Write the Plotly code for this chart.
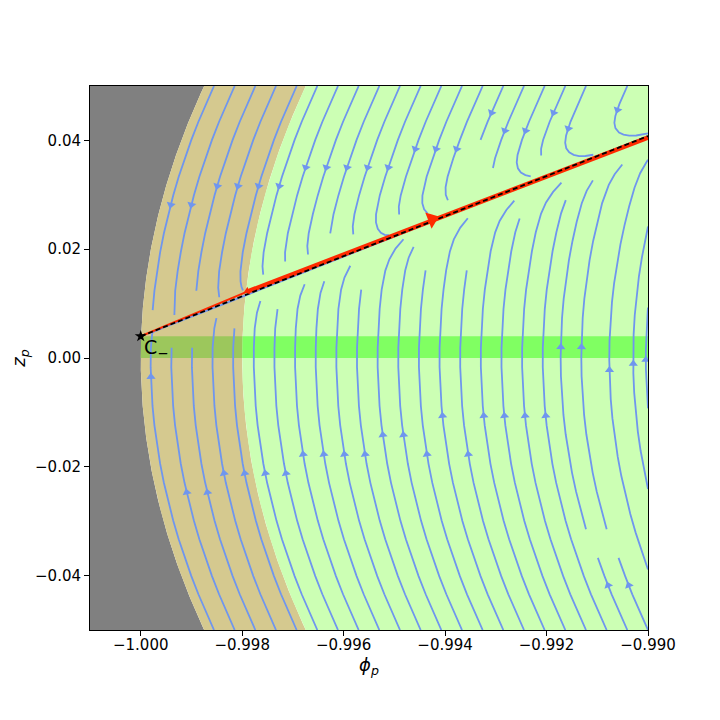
import numpy as np
import plotly.graph_objects as go

# =========================================================
# DATA
# =========================================================
x_range = [-1.001, -0.990]
y_range = [-0.05, 0.05]
x_ticks = [-1.000, -0.998, -0.996, -0.994, -0.992, -0.990]
x_ticktext = ['−1.000', '−0.998', '−0.996', '−0.994', '−0.992', '−0.990']
y_ticks = [-0.04, -0.02, 0.00, 0.02, 0.04]
y_ticktext = ['−0.04', '−0.02', '0.00', '0.02', '0.04']

# region boundaries: outer (unit) circle and inner circle, green band in z
circle_radii = [1.000, 0.998]
band_z = [0.000, 0.004]

# critical point C- and trajectory
c_minus = [-1.000, 0.004]
dashed_phi = [-1.000, -0.990]
dashed_z = [0.004, 0.0408]
red_thin_phi = [-1.000, -0.99790]
red_thin_z = [0.004, 0.0122]
red_thick_phi = [-0.99790, -0.990]
red_thick_z = [0.0122, 0.0405]
red_arrow_phi = [-0.99426]
red_arrow_z = [0.0255]
red_tail_phi = [-0.99790]
red_tail_z = [0.0123]

# flow model for the streamlines (widths in axes fraction)
flow_width = 0.015
along_strength = 2.0
along_width = 0.04
stream_density = 0.95

GRAY = '#808080'
TAN = '#d5c98f'
LIGHT = '#ccffb4'
BAND_TAN = '#9cc75c'
BAND_LIGHT = '#80ff62'
STREAM = '#6f96ee'

xs = x_range[1] - x_range[0]
ys = y_range[1] - y_range[0]


# =========================================================
# STREAMPLOT (same scheme as matplotlib)
# =========================================================
class OutOfBounds(Exception):
    pass


class Terminate(Exception):
    pass


class Invalid(Exception):
    pass


def interp(a, xi, yi):
    Ny, Nx = a.shape
    x = int(xi)
    y = int(yi)
    xn = min(x + 1, Nx - 1)
    yn = min(y + 1, Ny - 1)
    xt = xi - x
    yt = yi - y
    a0 = a[y, x] * (1 - xt) + a[y, xn] * xt
    a1 = a[yn, x] * (1 - xt) + a[yn, xn] * xt
    return a0 * (1 - yt) + a1 * yt


def streamplot(gx, gy, U, V, density=1.0, minlength=0.1, maxlength=4.0):
    ny, nx = U.shape
    mny = mnx = int(30 * density)
    mask = np.zeros((mny, mnx), bool)
    state = {'traj': [], 'cur': None}

    ug = U * (nx - 1) / xs
    vg = V * (ny - 1) / ys
    speed = np.hypot(U / xs, V / ys)

    def within(xi, yi):
        return 0 <= xi <= nx - 1 and 0 <= yi <= ny - 1

    def g2m(xi, yi):
        return (int(round(xi * (mnx - 1) / (nx - 1))),
                int(round(yi * (mny - 1) / (ny - 1))))

    def m_update(xm, ym):
        if state['cur'] != (xm, ym):
            if not mask[ym, xm]:
                state['traj'].append((ym, xm))
                mask[ym, xm] = True
                state['cur'] = (xm, ym)
            else:
                raise Invalid

    def update(xi, yi):
        if not within(xi, yi):
            raise Invalid
        m_update(*g2m(xi, yi))

    def make_f(sign):
        def f(xi, yi):
            if not within(xi, yi):
                raise OutOfBounds
            sp = interp(speed, xi, yi)
            if np.isnan(sp) or sp == 0:
                raise Terminate
            ui = interp(ug, xi, yi)
            vi = interp(vg, xi, yi)
            if np.isnan(ui) or np.isnan(vi):
                raise Terminate
            return sign * ui / sp, sign * vi / sp
        return f

    def euler(traj, f):
        xi, yi = traj[-1]
        cx, cy = f(xi, yi)
        if cx == 0:
            dsx = np.inf
        elif cx < 0:
            dsx = xi / -cx
        else:
            dsx = (nx - 1 - xi) / cx
        if cy == 0:
            dsy = np.inf
        elif cy < 0:
            dsy = yi / -cy
        else:
            dsy = (ny - 1 - yi) / cy
        ds = min(dsx, dsy)
        traj.append((xi + cx * ds, yi + cy * ds))
        return ds

    def rk12(x0, y0, f):
        maxerror = 0.003
        maxds = min(1.0 / mnx, 1.0 / mny, 0.1)
        ds = maxds
        stotal = 0.0
        xi, yi = x0, y0
        traj = []
        while True:
            try:
                if within(xi, yi):
                    traj.append((xi, yi))
                else:
                    raise OutOfBounds
                k1x, k1y = f(xi, yi)
                k2x, k2y = f(xi + ds * k1x, yi + ds * k1y)
            except OutOfBounds:
                if traj:
                    try:
                        stotal += euler(traj, f)
                    except (Terminate, OutOfBounds):
                        pass
                break
            except Terminate:
                break
            dx1 = ds * k1x
            dy1 = ds * k1y
            dx2 = ds * 0.5 * (k1x + k2x)
            dy2 = ds * 0.5 * (k1y + k2y)
            err = np.hypot((dx2 - dx1) / (nx - 1), (dy2 - dy1) / (ny - 1))
            if err < maxerror:
                xi += dx2
                yi += dy2
                try:
                    update(xi, yi)
                except Invalid:
                    break
                if stotal + ds > maxlength:
                    break
                stotal += ds
            if err == 0:
                ds = maxds
            else:
                ds = min(maxds, 0.85 * ds * (maxerror / err) ** 0.5)
        return stotal, traj

    def integrate(x0, y0):
        state['traj'] = []
        try:
            m_update(*g2m(x0, y0))
        except Invalid:
            return None
        s1, t1 = rk12(x0, y0, make_f(-1))
        state['cur'] = g2m(x0, y0)
        s2, t2 = rk12(x0, y0, make_f(1))
        if s1 + s2 > minlength:
            return t1[::-1] + t2[1:]
        for t in state['traj']:
            mask[t] = False
        return None

    def seeds():
        xfirst, yfirst, xlast, ylast = 0, 1, mnx - 1, mny - 1
        x, y = 0, 0
        d = 'right'
        for _ in range(mnx * mny):
            yield x, y
            if d == 'right':
                x += 1
                if x >= xlast:
                    xlast -= 1
                    d = 'up'
            elif d == 'up':
                y += 1
                if y >= ylast:
                    ylast -= 1
                    d = 'left'
            elif d == 'left':
                x -= 1
                if x <= xfirst:
                    xfirst += 1
                    d = 'down'
            elif d == 'down':
                y -= 1
                if y <= yfirst:
                    yfirst += 1
                    d = 'right'

    lines = []
    for xm, ym in seeds():
        if not mask[ym, xm]:
            xg = xm * (nx - 1) / (mnx - 1)
            yg = ym * (ny - 1) / (mny - 1)
            t = integrate(xg, yg)
            if t is not None and len(t) > 1:
                arr = np.array(t)
                px = gx[0] + arr[:, 0] * (gx[-1] - gx[0]) / (nx - 1)
                py = gy[0] + arr[:, 1] * (gy[-1] - gy[0]) / (ny - 1)
                lines.append((px, py))
    return lines


# =========================================================
# VECTOR FIELD
# =========================================================
nx = ny = 160
gx = np.linspace(x_range[0], x_range[1], nx)
gy = np.linspace(y_range[0], y_range[1], ny)
PHI, Z = np.meshgrid(gx, gy)
rho = np.hypot(PHI, Z)

tx = Z / xs
ty = -PHI / ys
tn = np.hypot(tx, ty)
tx, ty = tx / tn, ty / tn

slope = (dashed_z[1] - dashed_z[0]) / (dashed_phi[1] - dashed_phi[0])
S = (Z - (c_minus[1] + slope * (PHI - c_minus[0]))) / ys
lx, ly = 1 / xs, slope / ys
ln = np.hypot(lx, ly)
lx, ly = lx / ln, ly / ln

# flow along the invariant line grows with distance from C-
r_along = np.clip((PHI - c_minus[0]) / xs, 0, None)
w = -np.tanh(S / flow_width)
g = along_strength * r_along * np.exp(-(S / along_width) ** 2)
U = (w * tx + g * lx) * xs
V = (w * ty + g * ly) * ys
U[rho > circle_radii[0]] = np.nan
V[rho > circle_radii[0]] = np.nan

lines = streamplot(gx, gy, U, V, density=stream_density)

sx, sy = [], []
ax_, ay_, aang = [], [], []
for px, py in lines:
    sx += list(px) + [None]
    sy += list(py) + [None]
    s = np.cumsum(np.hypot(np.diff(px), np.diff(py)))
    n = int(np.searchsorted(s, s[-1] / 2.0))
    n = min(n, len(px) - 2)
    x1, y1 = (px[n] + px[n + 1]) / 2, (py[n] + py[n + 1]) / 2
    dxp = (px[n + 1] - px[n]) / xs * 558
    dyp = (py[n + 1] - py[n]) / ys * 544
    ax_.append(x1)
    ay_.append(y1)
    aang.append(np.degrees(np.arctan2(dxp, dyp)))


# =========================================================
# REGIONS
# =========================================================
zz = np.linspace(y_range[0], y_range[1], 400)
outer = -np.sqrt(circle_radii[0] ** 2 - zz ** 2)
inner = -np.sqrt(circle_radii[1] ** 2 - zz ** 2)

zb = np.linspace(band_z[0], band_z[1], 30)
b_outer = -np.sqrt(circle_radii[0] ** 2 - zb ** 2)
b_inner = -np.sqrt(circle_radii[1] ** 2 - zb ** 2)

fig = go.Figure()

fig.add_trace(go.Scatter(
    x=[x_range[0]] + list(outer) + [x_range[0]],
    y=[y_range[0]] + list(zz) + [y_range[1]],
    fill='toself', fillcolor=GRAY, line=dict(width=0), mode='lines',
    hoverinfo='skip'
))
fig.add_trace(go.Scatter(
    x=list(outer) + list(inner[::-1]),
    y=list(zz) + list(zz[::-1]),
    fill='toself', fillcolor=TAN, line=dict(width=0), mode='lines',
    hoverinfo='skip'
))
fig.add_trace(go.Scatter(
    x=list(inner) + [x_range[1], x_range[1]],
    y=list(zz) + [y_range[1], y_range[0]],
    fill='toself', fillcolor=LIGHT, line=dict(width=0), mode='lines',
    hoverinfo='skip'
))
fig.add_trace(go.Scatter(
    x=list(b_outer) + list(b_inner[::-1]),
    y=list(zb) + list(zb[::-1]),
    fill='toself', fillcolor=BAND_TAN, line=dict(width=0), mode='lines',
    hoverinfo='skip'
))
fig.add_trace(go.Scatter(
    x=list(b_inner) + [x_range[1], x_range[1]],
    y=list(zb) + [band_z[1], band_z[0]],
    fill='toself', fillcolor=BAND_LIGHT, line=dict(width=0), mode='lines',
    hoverinfo='skip'
))

# streamlines
fig.add_trace(go.Scatter(
    x=sx, y=sy, mode='lines',
    line=dict(color=STREAM, width=1.8),
    hoverinfo='skip'
))
fig.add_trace(go.Scatter(
    x=ax_, y=ay_, mode='markers',
    marker=dict(symbol='triangle-up', size=8, color=STREAM, angle=aang,
                line=dict(width=0)),
    hoverinfo='skip'
))

# trajectory
fig.add_trace(go.Scatter(
    x=red_thin_phi, y=red_thin_z, mode='lines',
    line=dict(color='#ff2a00', width=2), hoverinfo='skip'
))
fig.add_trace(go.Scatter(
    x=red_thick_phi, y=red_thick_z, mode='lines',
    line=dict(color='#ff2a00', width=4.5), hoverinfo='skip'
))
fig.add_trace(go.Scatter(
    x=dashed_phi, y=dashed_z, mode='lines',
    line=dict(color='black', width=1.8, dash='5px,3px'), hoverinfo='skip'
))
arrow_angle = np.degrees(np.arctan2(1 / xs * 558, slope / ys * 544))
fig.add_trace(go.Scatter(
    x=red_arrow_phi, y=red_arrow_z, mode='markers',
    marker=dict(symbol='triangle-up', size=15, color='#ff2a00',
                angle=arrow_angle, line=dict(width=0)),
    hoverinfo='skip'
))
fig.add_trace(go.Scatter(
    x=red_tail_phi, y=red_tail_z, mode='markers',
    marker=dict(symbol='triangle-up', size=7, color='#ff2a00',
                angle=arrow_angle + 180, line=dict(width=0)),
    hoverinfo='skip'
))
fig.add_trace(go.Scatter(
    x=[c_minus[0]], y=[c_minus[1]], mode='markers',
    marker=dict(symbol='star', size=9, color='black'),
    hoverinfo='skip'
))

fig.add_annotation(
    x=c_minus[0], y=c_minus[1], text='C<sub>−</sub>',
    showarrow=False, xanchor='left', yanchor='top',
    xshift=1, yshift=2,
    font=dict(size=19, color='black', family='DejaVu Sans')
)

# the page body adds an 8px offset; margins compensate so the axes box
# lands at the same place as in the reference
fig.update_layout(
    width=720, height=720,
    margin=dict(l=82, r=80, t=78, b=98),
    paper_bgcolor='white', plot_bgcolor='white',
    showlegend=False,
    font=dict(family='DejaVu Sans', size=15, color='black'),
    xaxis=dict(
        range=x_range, tickvals=x_ticks, ticktext=x_ticktext,
        showline=True, mirror=True, linecolor='black', linewidth=1,
        ticks='outside', ticklen=5, tickwidth=1, tickcolor='black',
        ticklabelstandoff=-4,
        showgrid=False, zeroline=False, automargin=False,
        title=dict(text='<i>ϕ</i><sub><i>p</i></sub>', standoff=0)
    ),
    yaxis=dict(
        range=y_range, tickvals=y_ticks, ticktext=y_ticktext,
        showline=True, mirror=True, linecolor='black', linewidth=1,
        ticks='outside', ticklen=5, tickwidth=1, tickcolor='black',
        showgrid=False, zeroline=False, automargin=False,
        title=dict(text='<i>z</i><sub><i>p</i></sub>', standoff=10)
    )
)

fig.write_html("out.html")
